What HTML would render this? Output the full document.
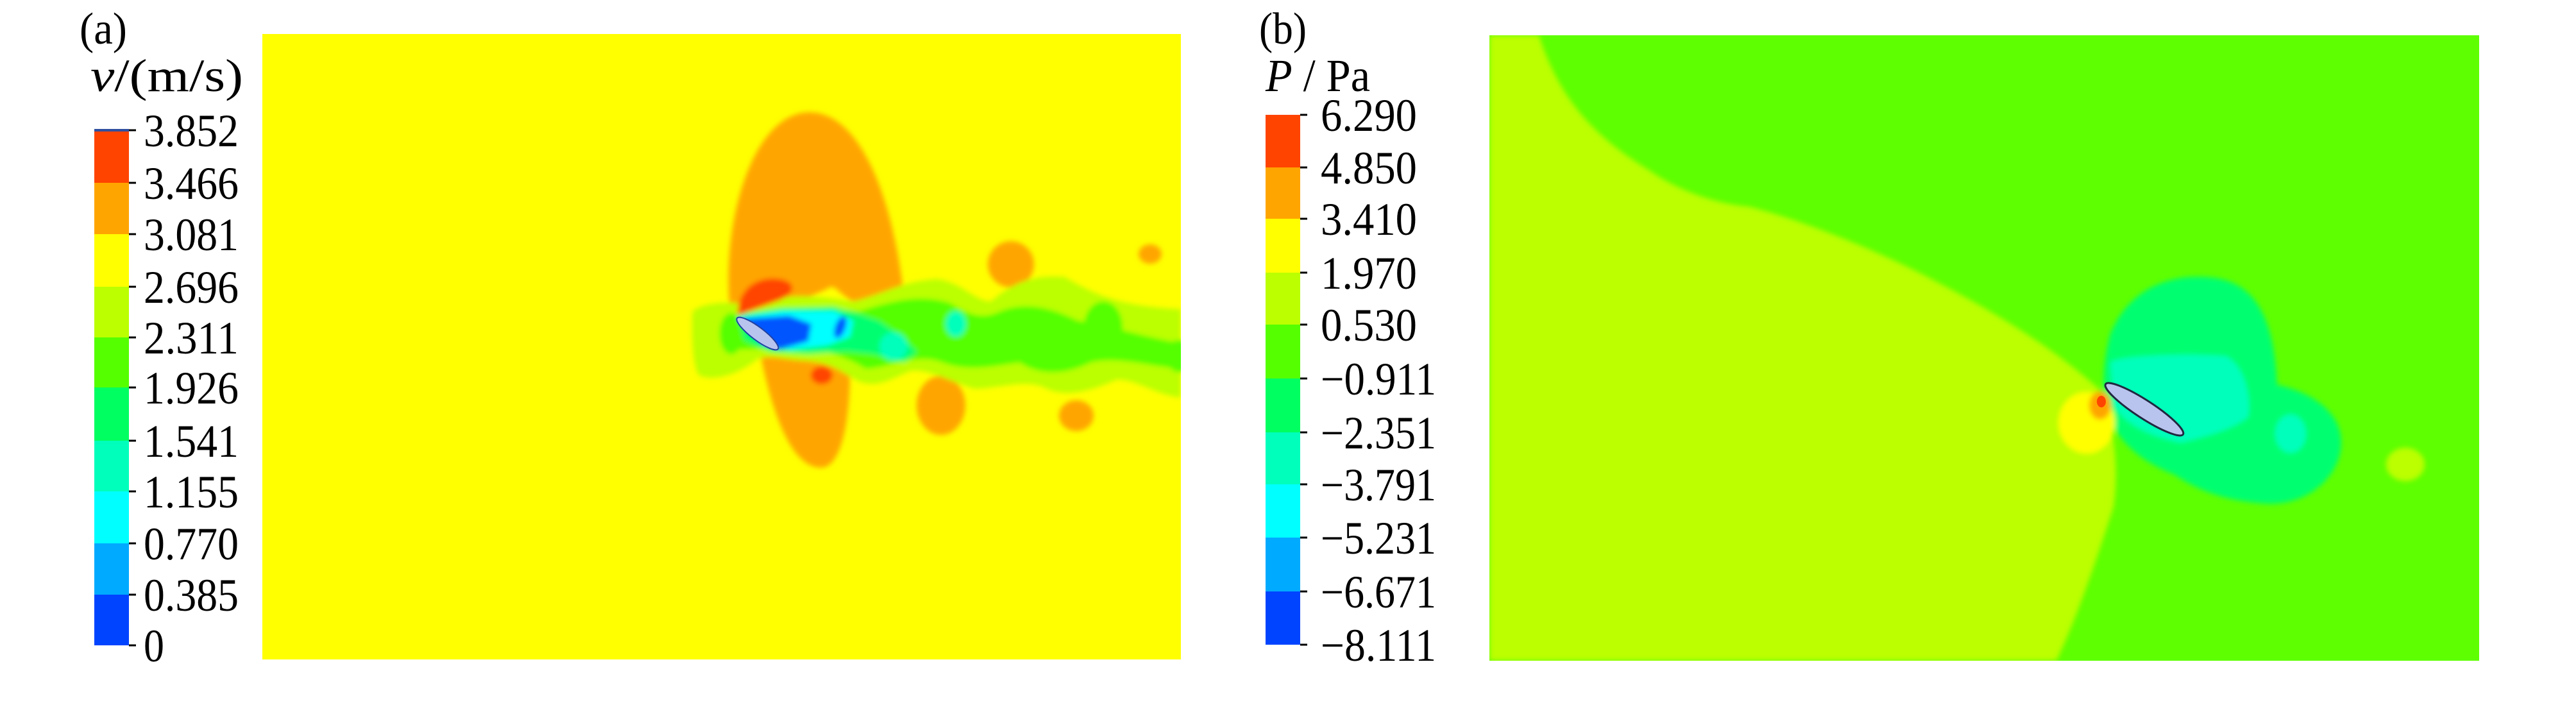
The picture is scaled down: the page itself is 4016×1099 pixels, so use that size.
<!DOCTYPE html>
<html><head><meta charset="utf-8"><style>
html,body{margin:0;padding:0;background:#fff;}
svg{display:block;}
text{font-family:"Liberation Serif",serif;fill:#000;}
</style></head><body>
<svg width="4016" height="1099" viewBox="0 0 4016 1099" xmlns="http://www.w3.org/2000/svg">
<defs>
<filter id="bl" x="-20%" y="-20%" width="140%" height="140%"><feGaussianBlur stdDeviation="4"/></filter>
<clipPath id="ca"><rect x="409" y="53" width="1432" height="975"/></clipPath>
<clipPath id="cb"><rect x="2322" y="55" width="1543" height="975"/></clipPath>
</defs>
<rect width="4016" height="1099" fill="#fff"/>

<!-- Panel a -->
<text x="124" y="68" font-size="70" textLength="74" lengthAdjust="spacingAndGlyphs">(a)</text>
<text x="141" y="142" font-size="72" textLength="238" lengthAdjust="spacingAndGlyphs"><tspan font-style="italic">v</tspan>/(m/s)</text>
<g>
<rect x="147" y="203" width="54" height="82" fill="#ff4400"/>
<rect x="147" y="285" width="54" height="80" fill="#ffa500"/>
<rect x="147" y="365" width="54" height="82" fill="#ffff00"/>
<rect x="147" y="447" width="54" height="79" fill="#bbff00"/>
<rect x="147" y="526" width="54" height="78" fill="#55ff00"/>
<rect x="147" y="604" width="54" height="83" fill="#00ff60"/>
<rect x="147" y="687" width="54" height="79" fill="#00ffbb"/>
<rect x="147" y="766" width="54" height="81" fill="#00ffff"/>
<rect x="147" y="847" width="54" height="80" fill="#00aaff"/>
<rect x="147" y="927" width="54" height="79" fill="#0044ff"/>
<rect x="147" y="201" width="54" height="4" fill="#3050a0"/>
</g>
<g font-size="72">
<text x="224" y="228" textLength="148" lengthAdjust="spacingAndGlyphs">3.852</text>
<text x="224" y="310" textLength="148" lengthAdjust="spacingAndGlyphs">3.466</text>
<text x="224" y="390" textLength="148" lengthAdjust="spacingAndGlyphs">3.081</text>
<text x="224" y="472" textLength="148" lengthAdjust="spacingAndGlyphs">2.696</text>
<text x="224" y="551" textLength="148" lengthAdjust="spacingAndGlyphs">2.311</text>
<text x="224" y="629" textLength="148" lengthAdjust="spacingAndGlyphs">1.926</text>
<text x="224" y="712" textLength="148" lengthAdjust="spacingAndGlyphs">1.541</text>
<text x="224" y="791" textLength="148" lengthAdjust="spacingAndGlyphs">1.155</text>
<text x="224" y="872" textLength="148" lengthAdjust="spacingAndGlyphs">0.770</text>
<text x="224" y="952" textLength="148" lengthAdjust="spacingAndGlyphs">0.385</text>
<text x="224" y="1031" textLength="32" lengthAdjust="spacingAndGlyphs">0</text>
</g>
<g stroke="#000" stroke-width="3">
<line x1="201" y1="203" x2="212" y2="203"/><line x1="201" y1="285" x2="212" y2="285"/><line x1="201" y1="365" x2="212" y2="365"/>
<line x1="201" y1="447" x2="212" y2="447"/><line x1="201" y1="526" x2="212" y2="526"/><line x1="201" y1="604" x2="212" y2="604"/>
<line x1="201" y1="687" x2="212" y2="687"/><line x1="201" y1="766" x2="212" y2="766"/><line x1="201" y1="847" x2="212" y2="847"/>
<line x1="201" y1="927" x2="212" y2="927"/><line x1="201" y1="1006" x2="212" y2="1006"/>
</g>

<g clip-path="url(#ca)">
<rect x="409" y="53" width="1432" height="975" fill="#ffff00"/>
<g filter="url(#bl)">
<path d="M1140,500 C1120,360 1170,175 1262,175 C1345,175 1395,320 1410,470 L1330,470 C1310,460 1300,440 1290,450 L1200,490 Z" fill="#ffa500"/>
<path d="M1185,550 L1325,560 C1327,640 1315,729 1280,729 C1235,729 1205,650 1185,550 Z" fill="#ffa500"/>
<ellipse cx="1576" cy="412" rx="36" ry="36" fill="#ffa500"/>
<ellipse cx="1793" cy="396" rx="18" ry="15" fill="#ffa500"/>
<ellipse cx="1467" cy="632" rx="38" ry="46" fill="#ffa500"/>
<ellipse cx="1678" cy="648" rx="27" ry="24" fill="#ffa500"/>
<path d="M1080,485 C1100,470 1140,470 1170,475 C1230,455 1280,462 1330,470 C1380,458 1400,440 1460,435 C1500,440 1520,470 1545,470 C1580,440 1610,428 1660,432 C1700,455 1740,478 1841,482 L1841,620 C1800,615 1770,590 1740,592 C1700,610 1660,620 1630,605 C1600,590 1560,605 1520,606 C1480,595 1450,575 1420,578 C1390,590 1370,605 1340,595 C1310,580 1300,565 1250,562 C1220,560 1200,552 1180,560 C1150,585 1110,595 1090,585 C1078,570 1078,500 1080,485 Z" fill="#bbff00"/>
<path d="M1130,500 C1200,480 1280,478 1340,485 C1390,470 1430,458 1480,472 C1510,490 1530,500 1560,485 C1600,470 1640,480 1680,500 C1720,505 1780,525 1841,535 L1841,575 C1790,570 1740,555 1700,565 C1660,585 1620,585 1590,565 C1550,570 1510,580 1470,565 C1430,550 1400,570 1350,575 C1320,555 1280,545 1250,542 L1135,545 Z" fill="#55ff00"/>
<ellipse cx="1720" cy="510" rx="30" ry="40" fill="#55ff00"/>
<ellipse cx="1838" cy="555" rx="20" ry="25" fill="#55ff00"/>
<ellipse cx="1140" cy="520" rx="18" ry="32" fill="#55ff00"/>
<path d="M1150,490 L1220,480 L1300,478 L1340,490 L1370,500 L1400,520 L1430,548 L1410,565 L1360,552 L1320,548 L1260,552 L1200,548 L1160,530 Z" fill="#00ff70"/>
<ellipse cx="1490" cy="505" rx="16" ry="20" fill="#00ffbb"/>
<ellipse cx="1393" cy="540" rx="22" ry="22" fill="#00ffbb"/>
<path d="M1150,495 L1220,485 L1300,485 L1330,500 L1325,525 L1290,538 L1230,545 L1190,538 Z" fill="#00ffff"/>
<path d="M1155,497 L1230,492 L1265,505 L1260,532 L1215,545 L1185,535 Z" fill="#0055ff"/>
<ellipse cx="1310" cy="510" rx="8" ry="18" fill="#0055ff" transform="rotate(20 1310 510)"/>
<path d="M1150,492 C1150,450 1180,430 1215,435 C1245,440 1240,460 1210,470 Z" fill="#ff4400"/>
<ellipse cx="1281" cy="585" rx="17" ry="14" fill="#ff4400"/>
</g>
<ellipse cx="1181" cy="520" rx="40" ry="10" fill="#b8c4ee" stroke="#2040a0" stroke-width="2" transform="rotate(37 1181 520)"/>
</g>

<!-- Panel b -->
<text x="1963" y="68" font-size="70" textLength="74" lengthAdjust="spacingAndGlyphs">(b)</text>
<text x="1973" y="142" font-size="72" textLength="163" lengthAdjust="spacingAndGlyphs"><tspan font-style="italic">P</tspan> / Pa</text>
<g>
<rect x="1973" y="179" width="54" height="82" fill="#ff4400"/>
<rect x="1973" y="261" width="54" height="80" fill="#ffa500"/>
<rect x="1973" y="341" width="54" height="84" fill="#ffff00"/>
<rect x="1973" y="425" width="54" height="81" fill="#bbff00"/>
<rect x="1973" y="506" width="54" height="84" fill="#55ff00"/>
<rect x="1973" y="590" width="54" height="84" fill="#00ff60"/>
<rect x="1973" y="674" width="54" height="81" fill="#00ffbb"/>
<rect x="1973" y="755" width="54" height="83" fill="#00ffff"/>
<rect x="1973" y="838" width="54" height="84" fill="#00aaff"/>
<rect x="1973" y="922" width="54" height="83" fill="#0044ff"/>
</g>
<g font-size="72">
<text x="2059" y="204" textLength="150" lengthAdjust="spacingAndGlyphs">6.290</text>
<text x="2059" y="286" textLength="150" lengthAdjust="spacingAndGlyphs">4.850</text>
<text x="2059" y="366" textLength="150" lengthAdjust="spacingAndGlyphs">3.410</text>
<text x="2059" y="450" textLength="150" lengthAdjust="spacingAndGlyphs">1.970</text>
<text x="2059" y="531" textLength="150" lengthAdjust="spacingAndGlyphs">0.530</text>
<text x="2059" y="615" textLength="180" lengthAdjust="spacingAndGlyphs">−0.911</text>
<text x="2059" y="699" textLength="180" lengthAdjust="spacingAndGlyphs">−2.351</text>
<text x="2059" y="780" textLength="180" lengthAdjust="spacingAndGlyphs">−3.791</text>
<text x="2059" y="863" textLength="180" lengthAdjust="spacingAndGlyphs">−5.231</text>
<text x="2059" y="947" textLength="180" lengthAdjust="spacingAndGlyphs">−6.671</text>
<text x="2059" y="1030" textLength="180" lengthAdjust="spacingAndGlyphs">−8.111</text>
</g>
<g stroke="#000" stroke-width="3">
<line x1="2027" y1="179" x2="2038" y2="179"/><line x1="2027" y1="261" x2="2038" y2="261"/><line x1="2027" y1="341" x2="2038" y2="341"/>
<line x1="2027" y1="425" x2="2038" y2="425"/><line x1="2027" y1="506" x2="2038" y2="506"/><line x1="2027" y1="590" x2="2038" y2="590"/>
<line x1="2027" y1="674" x2="2038" y2="674"/><line x1="2027" y1="755" x2="2038" y2="755"/><line x1="2027" y1="838" x2="2038" y2="838"/>
<line x1="2027" y1="922" x2="2038" y2="922"/><line x1="2027" y1="1005" x2="2038" y2="1005"/>
</g>

<g clip-path="url(#cb)">
<rect x="2322" y="55" width="1543" height="975" fill="#5eff00"/>
<g filter="url(#bl)">
<path d="M2322,55 L2399,55 C2430,150 2480,210 2572,266 C2620,300 2680,318 2725,322 C2800,340 2900,380 2982,420 C3100,480 3200,540 3276,610 C3300,680 3302,740 3295,790 C3260,900 3230,980 3206,1030 L2322,1030 Z" fill="#bbff00"/>
<path d="M3290,520 C3320,450 3380,428 3440,432 C3520,436 3545,500 3550,600 C3600,610 3650,640 3650,690 C3650,740 3600,790 3530,785 C3460,780 3420,760 3390,740 C3340,720 3300,690 3285,640 C3275,600 3280,560 3290,520 Z" fill="#00ff70"/>
<path d="M3290,565 C3300,555 3400,550 3470,555 C3500,570 3510,620 3505,650 C3480,670 3440,680 3400,690 C3350,680 3310,660 3295,630 Z" fill="#00ffbb"/>
<ellipse cx="3571" cy="676" rx="24" ry="30" fill="#00ffbb"/>
<ellipse cx="3750" cy="724" rx="30" ry="26" fill="#bbff00"/>
<ellipse cx="3253" cy="659" rx="44" ry="48" fill="#ffff00"/>
<ellipse cx="3274" cy="632" rx="17" ry="22" fill="#ffa500"/>
</g>
<ellipse cx="3276" cy="626" rx="7" ry="9" fill="#ff4400"/>
<ellipse cx="3343" cy="638" rx="72" ry="14" fill="#b8c4ee" stroke="#202840" stroke-width="3" transform="rotate(33 3343 638)"/>
</g>
</svg>
</body></html>
